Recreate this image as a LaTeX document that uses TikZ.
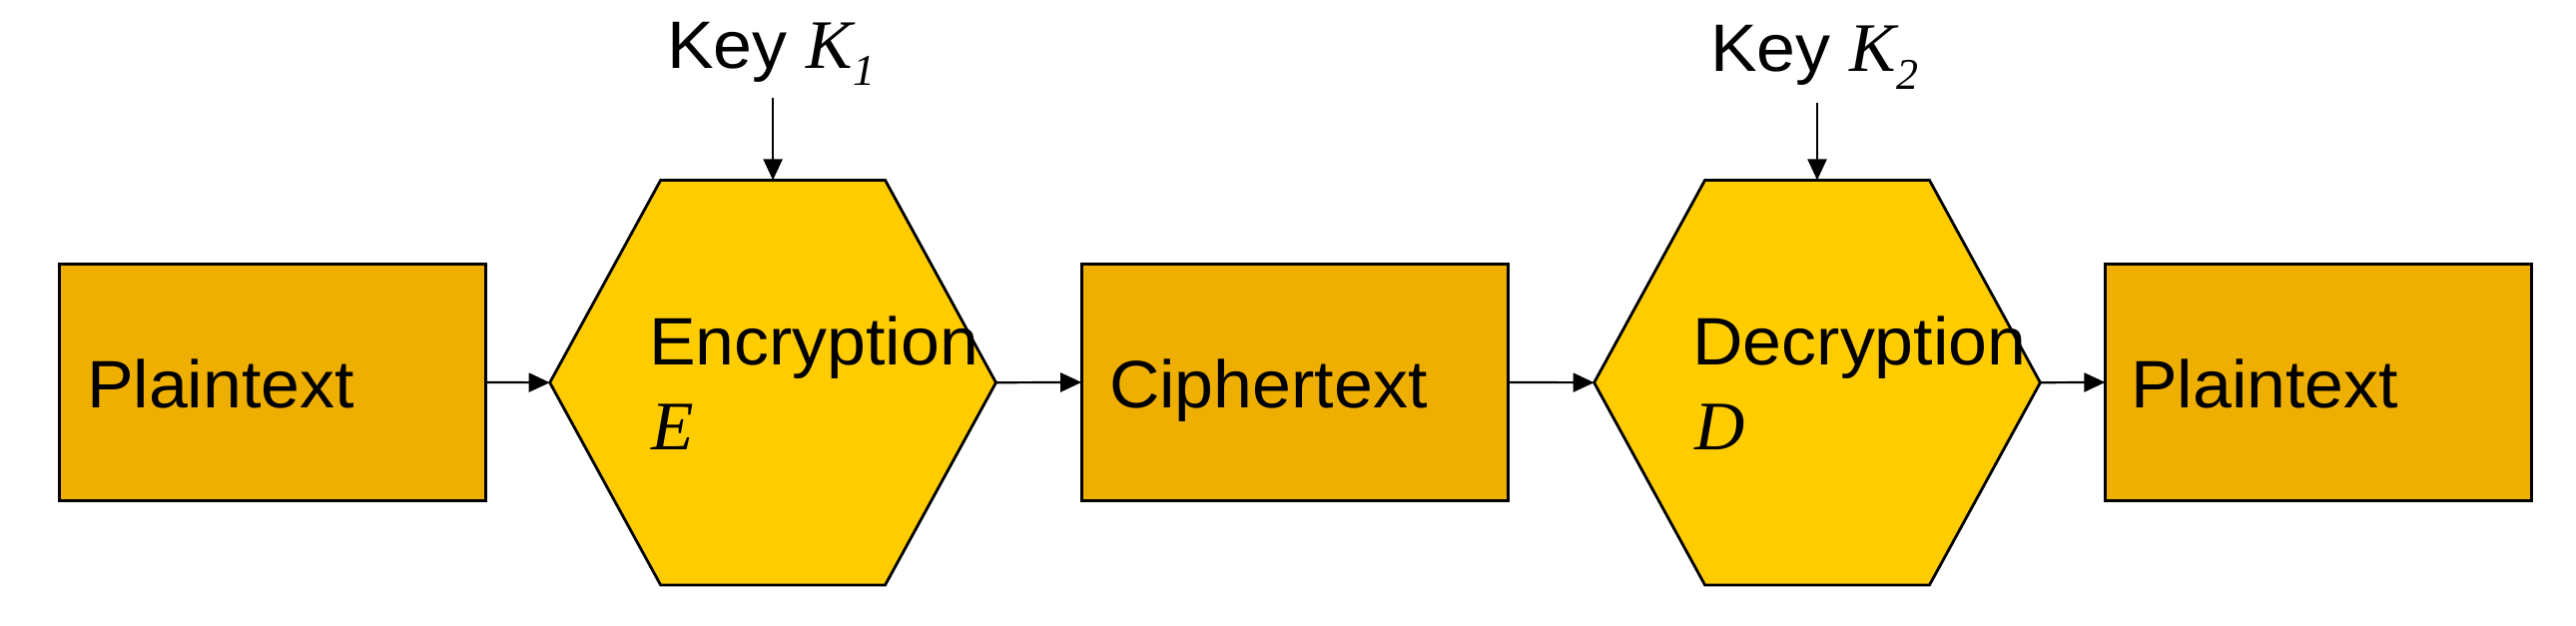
\documentclass[tikz,border=0pt]{standalone}
\usepackage{fontspec}
\setmainfont{Liberation Sans}[FakeStretch=1.04]
\newfontfamily\timesfont{Liberation Serif}
\usetikzlibrary{arrows.meta}
\definecolor{boxfill}{RGB}{238,175,0}
\definecolor{hexfill}{RGB}{255,204,0}
\newcommand{\labelfont}{\fontsize{16.8pt}{19pt}\selectfont}
\newcommand{\varfont}{\timesfont\itshape\fontsize{17.4pt}{20pt}\selectfont}
\newcommand{\subfont}{\timesfont\itshape\fontsize{11pt}{13pt}\selectfont}
\begin{document}
\begin{tikzpicture}[x=0.25pt,y=-0.25pt,
  block/.style={draw=black, line width=0.7pt, fill=boxfill, minimum width=106.8pt, minimum height=59.1pt, inner sep=0pt, outer sep=0pt},
  hexframe/.style={minimum width=111.7pt, minimum height=101.4pt, inner sep=0pt, outer sep=0pt},
  hexline/.style={draw=black, line width=0.7pt, fill=hexfill, line join=miter},
  txt/.style={inner sep=0pt, outer sep=0pt, anchor=base west, font=\labelfont},
  vartxt/.style={inner sep=0pt, outer sep=0pt, anchor=base west, font=\varfont},
  flow/.style={draw=black, line width=0.55pt, -{Triangle[length=5.25pt,width=4.75pt]}}
]
\useasboundingbox (0,0) rectangle (2580,626);

% boxes
\node[block] (p1) at (273.2,382.9) {};
\node[block] (c1) at (1296.8,382.9) {};
\node[block] (p2) at (2322,382.9) {};

% hexagons
\node[hexframe] (enc) at (774.1,383.2) {};
\node[hexframe] (dec) at (1820,383.2) {};
\path[hexline] (enc.west) -- ([xshift=27.75pt]enc.north west) -- ([xshift=-27.75pt]enc.north east) -- (enc.east) -- ([xshift=-27.75pt]enc.south east) -- ([xshift=27.75pt]enc.south west) -- cycle;
\path[hexline] (dec.west) -- ([xshift=27.75pt]dec.north west) -- ([xshift=-27.75pt]dec.north east) -- (dec.east) -- ([xshift=-27.75pt]dec.south east) -- ([xshift=27.75pt]dec.south west) -- cycle;

% texts
\node[txt] (tp1) at (87,408.3) {Plaintext};
\node[txt] (tc1) at (1111,408.3) {Ciphertext};
\node[txt] (tp2) at (2134,408.3) {Plaintext};
\node[txt] (tenc) at (650,365.7) {Encryption};
\node[vartxt] (te) at (652,450) {E};
\node[txt] (tdec) at (1695.5,365.7) {Decryption};
\node[vartxt] (td) at (1697,450) {D};

% keys
\node[txt] (k1) at (668,68.3) {Key {\varfont K}\raisebox{-4.25pt}{\subfont 1}};
\node[txt] (k2) at (1713,71.7) {Key {\varfont K}\raisebox{-4.5pt}{\subfont 2}};
\coordinate (k1a) at ([yshift=20.6pt]enc.north);
\coordinate (k2a) at ([yshift=19.25pt]dec.north);

% connectors
\draw[flow] (k1a) -- (enc.north);
\draw[flow] (k2a) -- (dec.north);
\draw[flow] (p1.east) -- (enc.west);
\draw[flow] (enc.east) -- (c1.west);
\draw[flow] (c1.east) -- (dec.west);
\draw[flow] (dec.east) -- (p2.west);
\end{tikzpicture}
\end{document}
